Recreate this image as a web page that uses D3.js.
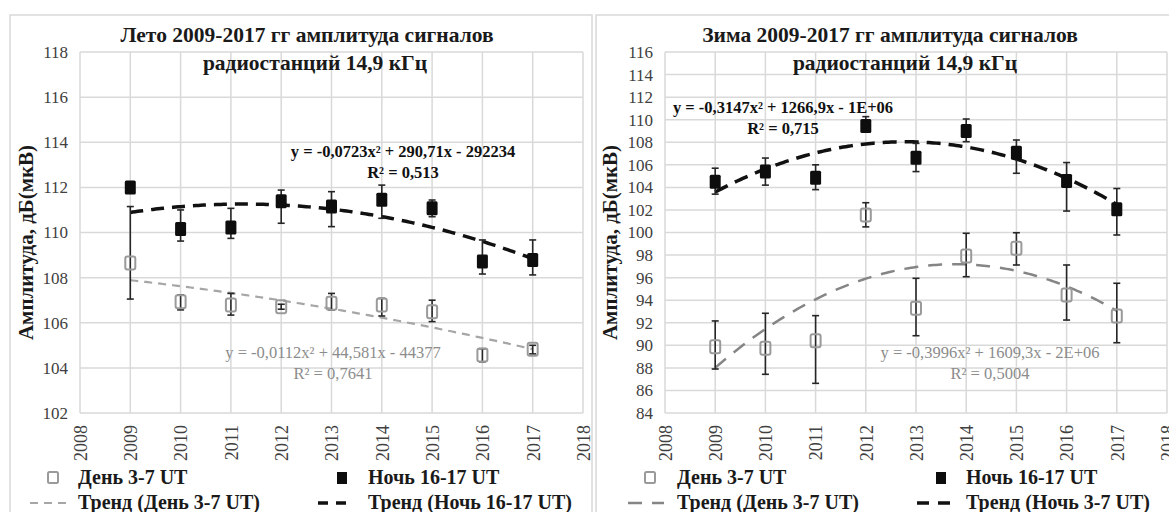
<!DOCTYPE html>
<html>
<head>
<meta charset="utf-8">
<script src="https://cdn.jsdelivr.net/npm/d3@7"></script>
<style>
  html, body { margin: 0; padding: 0; background: #fff; }
</style>
</head>
<body>
<svg id="chart" width="1169" height="512"></svg>
<script>
// Years of observation
const years = [2009, 2010, 2011, 2012, 2013, 2014, 2015, 2016, 2017];
const xTicks = [2008, 2009, 2010, 2011, 2012, 2013, 2014, 2015, 2016, 2017, 2018];

// Summer: daytime (3-7 UT) mean amplitude and error-bar bounds, dB(µV)
const summerDay     = [108.65, 106.93, 106.79, 106.71, 106.86, 106.79, 106.49, 104.57, 104.82];
const summerDayLow  = [107.05, 106.57, 106.34, 106.60, 106.57, 106.30, 106.05, 104.27, 104.62];
const summerDayHigh = [111.15, 107.23, 107.30, 106.82, 107.30, 107.08, 107.00, 104.85, 105.00];
// Summer: night (16-17 UT)
const summerNight     = [112.00, 110.15, 110.22, 111.38, 111.15, 111.45, 111.08, 108.71, 108.78];
const summerNightLow  = [112.00, 109.62, 109.74, 110.41, 110.26, 110.63, 110.70, 108.16, 108.12];
const summerNightHigh = [112.00, 111.00, 111.07, 111.88, 111.81, 112.10, 111.44, 109.67, 109.67];
const summerYTicks = [102, 104, 106, 108, 110, 112, 114, 116, 118];

// Winter: daytime (3-7 UT)
const winterDay     = [89.88, 89.73, 90.41, 101.55, 93.28, 97.92, 98.60, 94.46, 92.60];
const winterDayLow  = [87.90, 87.43, 86.63, 100.50, 90.85, 96.08, 97.12, 92.24, 90.23];
const winterDayHigh = [92.16, 92.84, 92.63, 102.64, 95.94, 99.93, 99.98, 97.12, 95.50];
// Winter: night (16-17 UT)
const winterNight     = [104.50, 105.40, 104.86, 109.44, 106.63, 109.00, 107.08, 104.57, 102.06];
const winterNightLow  = [103.40, 104.20, 103.80, 108.90, 105.40, 108.05, 105.25, 101.90, 99.78];
const winterNightHigh = [105.70, 106.60, 106.00, 110.27, 107.90, 110.06, 108.20, 106.20, 103.90];
const winterYTicks = [84, 86, 88, 90, 92, 94, 96, 98, 100, 102, 104, 106, 108, 110, 112, 114, 116];

// Text shown on the charts
const summerTitle = ["Лето 2009-2017 гг амплитуда сигналов", "радиостанций 14,9 кГц"];
const winterTitle = ["Зима 2009-2017 гг амплитуда сигналов", "радиостанций 14,9 кГц"];
const yAxisTitle = "Амплитуда, дБ(мкВ)";
const summerNightEq = ["y = -0,0723x² + 290,71x - 292234", "R² = 0,513"];
const summerDayEq   = ["y = -0,0112x² + 44,581x - 44377", "R² = 0,7641"];
const winterNightEq = ["y = -0,3147x² + 1266,9x - 1E+06", "R² = 0,715"];
const winterDayEq   = ["y = -0,3996x² + 1609,3x - 2E+06", "R² = 0,5004"];
const summerLegend = ["День 3-7 UT", "Ночь 16-17 UT", "Тренд (День 3-7 UT)", "Тренд (Ночь 16-17 UT)"];
const winterLegend = ["День 3-7 UT", "Ночь 16-17 UT", "Тренд (День 3-7 UT)", "Тренд (Ночь 3-7 UT)"];

const SERIF = '"Liberation Serif", "Times New Roman", serif';

// Least-squares second-order polynomial (same as a spreadsheet "polynomial, order 2" trendline)
function quadFit(xs, ys) {
  const n = xs.length;
  const x0 = d3.mean(xs);
  const t = xs.map(x => x - x0);
  let s1 = 0, s2 = 0, s3 = 0, s4 = 0, sy = 0, sty = 0, st2y = 0;
  t.forEach((ti, i) => {
    s1 += ti; s2 += ti * ti; s3 += ti ** 3; s4 += ti ** 4;
    sy += ys[i]; sty += ti * ys[i]; st2y += ti * ti * ys[i];
  });
  // Solve 3x3 normal equations by Cramer's rule
  const M = [[n, s1, s2], [s1, s2, s3], [s2, s3, s4]];
  const B = [sy, sty, st2y];
  const det = m => m[0][0]*(m[1][1]*m[2][2]-m[1][2]*m[2][1]) - m[0][1]*(m[1][0]*m[2][2]-m[1][2]*m[2][0]) + m[0][2]*(m[1][0]*m[2][1]-m[1][1]*m[2][0]);
  const D = det(M);
  const col = k => M.map((row, r) => row.map((v, c) => c === k ? B[r] : v));
  const a = det(col(0)) / D, b = det(col(1)) / D, c = det(col(2)) / D;
  return x => a + b * (x - x0) + c * (x - x0) ** 2;
}

const svg = d3.select("#chart");

function drawPanel(p) {
  const g = svg.append("g");

  // panel frame
  g.append("rect")
    .attr("x", p.frame[0]).attr("y", p.frame[1])
    .attr("width", p.frame[2]).attr("height", p.frame[3])
    .attr("fill", "none").attr("stroke", "#d9d9d9").attr("stroke-width", 1.5);

  const x = d3.scaleLinear().domain([2008, 2018]).range([p.left, p.right]);
  const y = d3.scaleLinear().domain(p.yDomain).range([p.bottom, p.top]);

  // gridlines
  g.append("g").selectAll("line.v").data(xTicks).join("line")
    .attr("x1", d => x(d)).attr("x2", d => x(d))
    .attr("y1", p.top).attr("y2", p.bottom)
    .attr("stroke", "#d9d9d9").attr("stroke-width", 1.5);
  g.append("g").selectAll("line.h").data(p.yTicks).join("line")
    .attr("x1", p.left).attr("x2", p.right)
    .attr("y1", d => y(d)).attr("y2", d => y(d))
    .attr("stroke", "#d9d9d9").attr("stroke-width", 1.5);

  // axes (labels only; lines are the gridlines)
  const yAxis = g.append("g").attr("transform", `translate(${p.left},0)`)
    .call(d3.axisLeft(y).tickValues(p.yTicks).tickSize(0).tickPadding(12).tickFormat(d3.format("d")));
  yAxis.select(".domain").remove();
  yAxis.selectAll("text").style("font-family", SERIF).style("font-size", p.yFont + "px")
    .attr("fill", "#404040");

  const xAxis = g.append("g").attr("transform", `translate(0,${p.bottom})`)
    .call(d3.axisBottom(x).tickValues(xTicks).tickSize(0).tickFormat(d3.format("d")));
  xAxis.select(".domain").remove();
  xAxis.selectAll("text")
    .style("font-family", SERIF).style("font-size", "18px").attr("fill", "#404040")
    .attr("transform", "rotate(-90)")
    .attr("text-anchor", "end")
    .attr("dy", "0.35em").attr("x", -12).attr("y", 0);

  // shared text helper
  const txt = (parent, s, size, weight, fill) => parent.append("text")
    .style("font-family", SERIF).style("font-size", size + "px").style("font-weight", weight)
    .attr("fill", fill).text(s);

  // y-axis title
  txt(g, yAxisTitle, 21, "bold", "#1a1a1a")
    .attr("transform", `translate(${p.yTitleX},${(p.top + p.bottom) / 2 + 10}) rotate(-90)`)
    .attr("text-anchor", "middle");

  // title
  txt(g, p.title[0], 21.5, "bold", "#1a1a1a").attr("x", p.titleX[0]).attr("y", 42).attr("text-anchor", "middle");
  txt(g, p.title[1], 21.5, "bold", "#1a1a1a").attr("x", p.titleX[1]).attr("y", 70).attr("text-anchor", "middle");

  // trendlines
  const fine = d3.range(2009, 2017.001, 0.05);
  const line = d3.line().x(d => x(d[0])).y(d => y(d[1]));
  const dayFit = quadFit(years, p.day);
  const nightFit = quadFit(years, p.night);
  g.append("path").datum(fine.map(v => [v, dayFit(v)])).attr("d", line)
    .attr("fill", "none").attr("stroke", p.dayTrendColor).attr("stroke-width", p.dayTrendWidth)
    .attr("stroke-dasharray", p.dayDash);
  g.append("path").datum(fine.map(v => [v, nightFit(v)])).attr("d", line)
    .attr("fill", "none").attr("stroke", "#111").attr("stroke-width", 3.5)
    .attr("stroke-dasharray", p.nightDash);

  // error bars
  function errorBars(lo, hi) {
    const eg = g.append("g").attr("stroke", "#262626").attr("stroke-width", 1.6);
    years.forEach((yr, i) => {
      if (hi[i] - lo[i] < 0.05) return;
      eg.append("line").attr("x1", x(yr)).attr("x2", x(yr)).attr("y1", y(lo[i])).attr("y2", y(hi[i]));
      eg.append("line").attr("x1", x(yr) - 3.5).attr("x2", x(yr) + 3.5).attr("y1", y(lo[i])).attr("y2", y(lo[i]));
      eg.append("line").attr("x1", x(yr) - 3.5).attr("x2", x(yr) + 3.5).attr("y1", y(hi[i])).attr("y2", y(hi[i]));
    });
  }
  errorBars(p.dayLow, p.dayHigh);
  errorBars(p.nightLow, p.nightHigh);

  // markers
  g.append("g").selectAll("rect").data(years).join("rect")
    .attr("x", d => x(d) - 5).attr("y", (d, i) => y(p.day[i]) - 6.5)
    .attr("width", 10).attr("height", 13).attr("rx", 2)
    .attr("fill", "none").attr("stroke", "#9a9a9a").attr("stroke-width", 2);
  g.append("g").selectAll("rect").data(years).join("rect")
    .attr("x", d => x(d) - 5.5).attr("y", (d, i) => y(p.night[i]) - 7)
    .attr("width", 11).attr("height", 14).attr("rx", 1.5)
    .attr("fill", "#0d0d0d");

  // trend equations
  const eqs = [[p.nightEq, p.nightEqPos, "#111", "bold"], [p.dayEq, p.dayEqPos, "#8c8c8c", "normal"]];
  eqs.forEach(([lines, pos, col, fw]) => {
    lines.forEach((t, k) => {
      txt(g, t, 16.5, fw, col).attr("x", pos[0]).attr("y", pos[1] + k * 21).attr("text-anchor", "middle");
    });
  });

  // legend
  const L = p.legend;
  g.append("rect").attr("x", L.dayMarkX - 5).attr("y", 472).attr("width", 10).attr("height", 11).attr("rx", 1.5)
    .attr("fill", "none").attr("stroke", "#9a9a9a").attr("stroke-width", 2);
  txt(g, p.legendText[0], 20, "bold", "#1a1a1a").attr("x", L.dayTextX).attr("y", 484);
  g.append("rect").attr("x", L.nightMarkX - 5).attr("y", 472).attr("width", 10).attr("height", 12)
    .attr("fill", "#0d0d0d");
  txt(g, p.legendText[1], 20, "bold", "#1a1a1a").attr("x", L.nightTextX).attr("y", 484);
  g.append("line").attr("x1", L.dayLine[0]).attr("x2", L.dayLine[1]).attr("y1", 503).attr("y2", 503)
    .attr("stroke", p.dayTrendColor).attr("stroke-width", p.dayTrendWidth).attr("stroke-dasharray", p.dayDash);
  txt(g, p.legendText[2], 20, "bold", "#1a1a1a").attr("x", L.dayTextX).attr("y", 509);
  g.append("line").attr("x1", L.nightLine[0]).attr("x2", L.nightLine[1]).attr("y1", 503).attr("y2", 503)
    .attr("stroke", "#111").attr("stroke-width", 3.5).attr("stroke-dasharray", p.nightLegendDash);
  txt(g, p.legendText[3], 20, "bold", "#1a1a1a").attr("x", L.nightTextX).attr("y", 509);
}

drawPanel({
  frame: [10, 15, 582, 510],
  left: 80, right: 583, top: 52, bottom: 413,
  yDomain: [102, 118], yTicks: summerYTicks, yFont: 17, yTitleX: 33,
  title: summerTitle, titleX: [307, 315],
  day: summerDay, dayLow: summerDayLow, dayHigh: summerDayHigh,
  night: summerNight, nightLow: summerNightLow, nightHigh: summerNightHigh,
  dayTrendColor: "#a6a6a6", dayTrendWidth: 2.2, dayDash: "8,6",
  nightDash: "13,8", nightLegendDash: "10,8",
  nightEq: summerNightEq, nightEqPos: [403, 157],
  dayEq: summerDayEq, dayEqPos: [333, 358],
  legendText: summerLegend,
  legend: { dayMarkX: 53, dayTextX: 78, nightMarkX: 342, nightTextX: 368, dayLine: [30, 72], nightLine: [318, 354] }
});

drawPanel({
  frame: [596, 15, 600, 510],
  left: 665, right: 1167, top: 52, bottom: 413,
  yDomain: [84, 116], yTicks: winterYTicks, yFont: 17, yTitleX: 617,
  title: winterTitle, titleX: [890, 905],
  day: winterDay, dayLow: winterDayLow, dayHigh: winterDayHigh,
  night: winterNight, nightLow: winterNightLow, nightHigh: winterNightHigh,
  dayTrendColor: "#858585", dayTrendWidth: 2.5, dayDash: "14,10",
  nightDash: "14,8", nightLegendDash: "12,9",
  nightEq: winterNightEq, nightEqPos: [783, 113],
  dayEq: winterDayEq, dayEqPos: [990, 358],
  legendText: winterLegend,
  legend: { dayMarkX: 650, dayTextX: 677, nightMarkX: 941, nightTextX: 966, dayLine: [628, 664], nightLine: [917, 953] }
});
</script>
</body>
</html>
